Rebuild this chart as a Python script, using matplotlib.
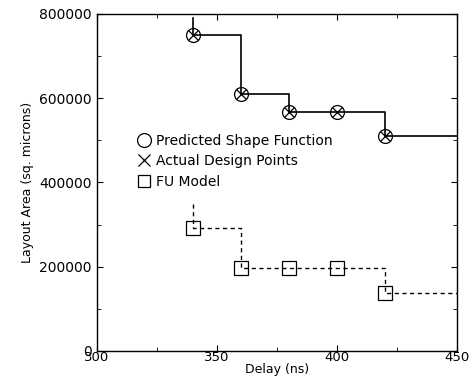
import matplotlib
matplotlib.use("Agg")
import matplotlib.pyplot as plt
from matplotlib.ticker import MultipleLocator

plt.rcParams["font.family"] = ["DejaVu Sans"]

# shape function (solid) and FU model (dashed)
delay = [340, 360, 380, 400, 420]
shape_area = [750000, 610000, 568000, 568000, 511000]
fu_area = [293000, 196000, 196000, 196000, 138000]
shape_top = 790000
fu_top = 350000
x_end = 450

fig = plt.figure(figsize=(4.70, 3.77), dpi=100)
ax = fig.add_axes([0.206, 0.069, 0.766, 0.894])

# step curves
sx = [delay[0]] + delay + [x_end]
sy = [shape_top] + shape_area + [shape_area[-1]]
ax.step(sx, sy, where="post", color="black", lw=1.2)
fy = [fu_top] + fu_area + [fu_area[-1]]
ax.step(sx, fy, where="post", color="black", lw=1.0, ls=(0, (3, 2.5)))

ax.plot(delay, shape_area, ls="none", marker="o", ms=10, mfc="none", mec="black", mew=0.9)
ax.plot(delay, shape_area, ls="none", marker="x", ms=7, mec="black", mew=0.9)
ax.plot(delay, fu_area, ls="none", marker="s", ms=10, mfc="none", mec="black", mew=0.9)

# legend entries
h1, = ax.plot([], [], ls="none", marker="o", ms=10, mfc="none", mec="black", mew=0.9)
h2, = ax.plot([], [], ls="none", marker="x", ms=8, mec="black", mew=0.9)
h3, = ax.plot([], [], ls="none", marker="s", ms=9, mfc="none", mec="black", mew=0.9)
ax.legend([h1, h2, h3], ["Predicted Shape Function", "Actual Design Points", "FU Model"],
          loc="upper left", bbox_to_anchor=(0.095, 0.66), frameon=False, fontsize=10,
          handlelength=1.0, handletextpad=0.4, labelspacing=0.45, borderaxespad=0)

ax.set_xlim(300, 450)
ax.set_ylim(0, 800000)
ax.xaxis.set_major_locator(MultipleLocator(50))
ax.xaxis.set_minor_locator(MultipleLocator(25))
ax.yaxis.set_major_locator(MultipleLocator(200000))
ax.yaxis.set_minor_locator(MultipleLocator(100000))
ax.tick_params(which="both", direction="in", top=True, right=True, labelsize=10)
ax.tick_params(which="major", length=4)
ax.tick_params(which="minor", length=3)
ax.tick_params(axis="x", pad=0, labelsize=9.5)
for s in ax.spines.values():
    s.set_linewidth(1.0)

ax.set_xlabel("Delay (ns)", fontsize=9, labelpad=-1)
ax.set_ylabel("Layout Area (sq. microns)", fontsize=9, labelpad=4)

fig.savefig("out.png", dpi=100)
